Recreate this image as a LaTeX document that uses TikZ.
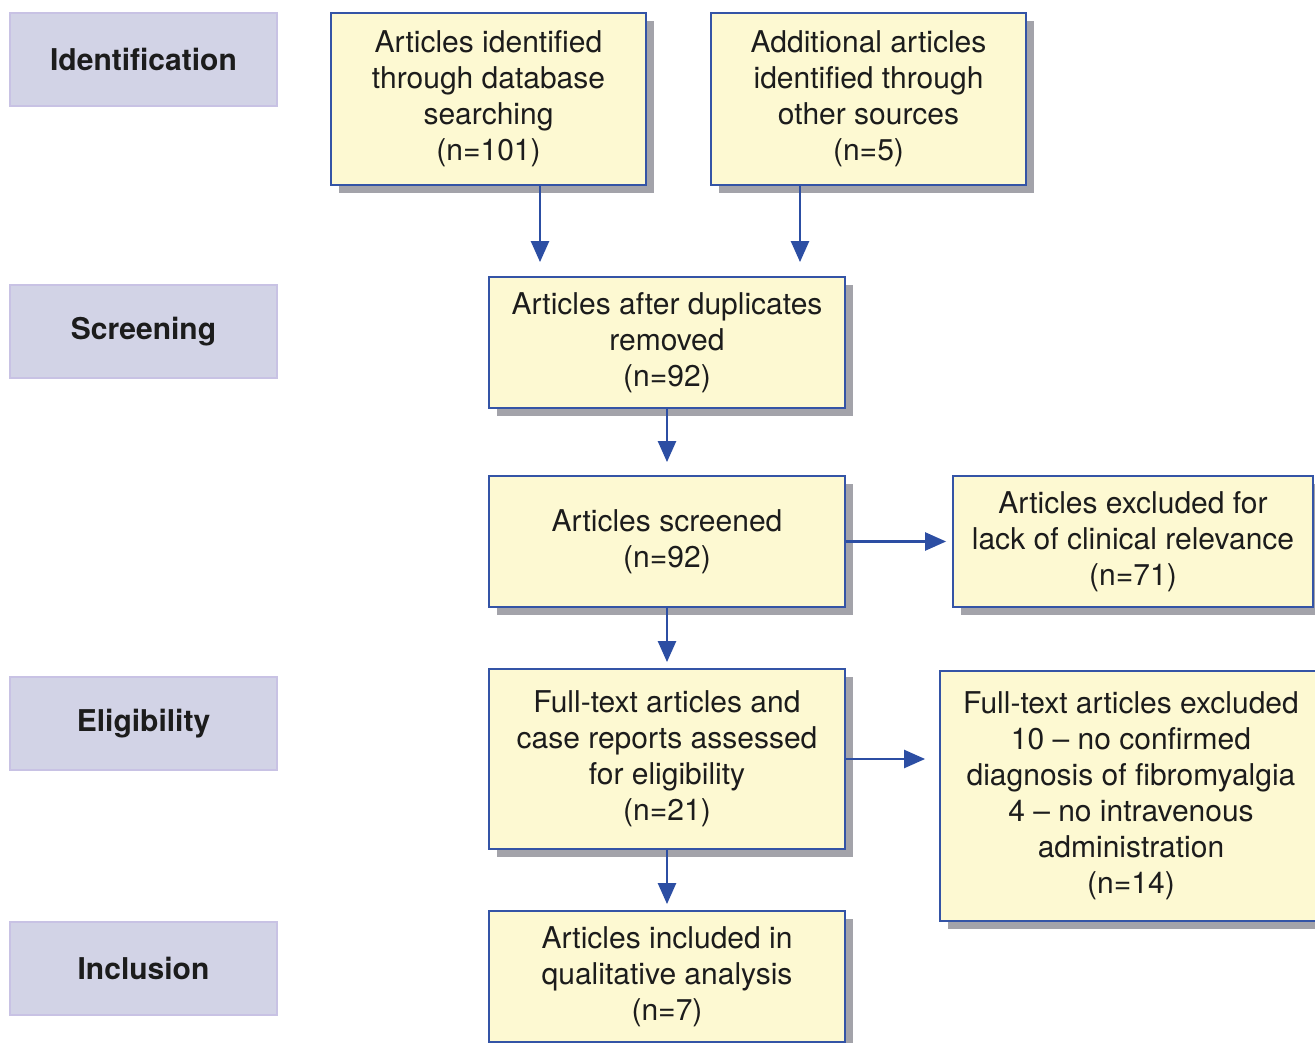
\documentclass[tikz,border=0pt]{standalone}
\usepackage{fontspec}
\setmainfont{TeX Gyre Heros}
\usetikzlibrary{shadows,arrows.meta,calc}
\definecolor{boxyellow}{RGB}{253,249,210}
\definecolor{boxblue}{RGB}{52,84,166}
\definecolor{arrblue}{RGB}{44,78,163}
\definecolor{lav}{RGB}{210,211,230}
\definecolor{lavborder}{RGB}{200,194,228}
\definecolor{shadowgray}{RGB}{163,163,170}
\definecolor{txt}{RGB}{28,28,28}
\tikzset{
  flowbox/.style={draw=boxblue, line width=1.8pt, fill=boxyellow,
    drop shadow={shadow xshift=8pt, shadow yshift=-8pt, fill=shadowgray, opacity=1},
    inner sep=0pt, align=center, text=txt,
    font=\fontsize{30}{36}\selectfont},
  stagebox/.style={draw=lavborder, line width=1.6pt, fill=lav,
    minimum width=267pt, minimum height=93pt, inner sep=0pt, text=txt,
    font=\fontsize{30}{36}\selectfont\bfseries},
  arr/.style={draw=arrblue, line width=2.4pt, -{Triangle[length=21pt,width=18pt]}},
}
\begin{document}
\begin{tikzpicture}[x=1pt,y=-1pt]
\useasboundingbox (0,0) rectangle (1315,1043);
% stage labels
\node[stagebox] (id) at (143.5,59.5) {Identification};
\node[stagebox] (sc) at (143.5,331.5) {Screening};
\node[stagebox] (el) at (143.5,723.5) {Eligibility};
\node[stagebox] (in) at (143.5,968.5) {Inclusion};
% flow boxes
\node[flowbox, minimum width=315pt, minimum height=172pt] (A) at (488.5,99)
  {Articles identified\\through database\\searching\\(n=101)};
\node[flowbox, minimum width=315pt, minimum height=172pt] (B) at (868.5,99)
  {Additional articles\\identified through\\other sources\\(n=5)};
\node[flowbox, minimum width=356pt, minimum height=131pt] (C) at (667,342.5)
  {Articles after duplicates\\removed\\(n=92)};
\node[flowbox, minimum width=356pt, minimum height=131pt] (D) at (667,541.5)
  {Articles screened\\(n=92)};
\node[flowbox, minimum width=360pt, minimum height=131pt] (E) at (1133,541.5)
  {Articles excluded for\\lack of clinical relevance\\(n=71)};
\node[flowbox, minimum width=356pt, minimum height=180pt] (F) at (667,759)
  {Full-text articles and\\case reports assessed\\for eligibility\\(n=21)};
\node[flowbox, minimum width=382pt, minimum height=250pt] (G) at (1131,796)
  {Full-text articles excluded\\10 -- no confirmed\\diagnosis of fibromyalgia\\4 -- no intravenous\\administration\\(n=14)};
\node[flowbox, minimum width=356pt, minimum height=131pt] (H) at (667,976.5)
  {Articles included in\\qualitative analysis\\(n=7)};
% connectors
\draw[arr, shorten >=14pt] ([xshift=51.5pt]A.south) -- ([xshift=51.5pt]A.south |- C.north);
\draw[arr, shorten >=14pt] ([xshift=-68.5pt]B.south) -- ([xshift=-68.5pt]B.south |- C.north);
\draw[arr, shorten >=13pt] (C.south) -- (D.north);
\draw[arr, shorten >=6pt] (D.east) -- (D.east -| E.west);
\draw[arr, shorten >=6pt] (D.south) -- (F.north);
\draw[arr, shorten >=14pt] (F.east) -- (F.east -| G.west);
\draw[arr, shorten >=6pt] (F.south) -- (H.north);
\end{tikzpicture}
\end{document}
